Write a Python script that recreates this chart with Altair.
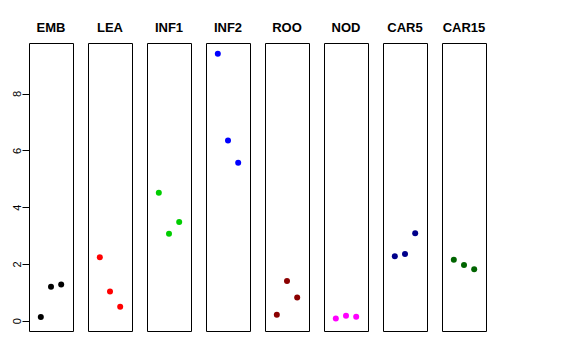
import altair as alt
import pandas as pd

groups = ["EMB", "LEA", "INF1", "INF2", "ROO", "NOD", "CAR5", "CAR15"]
colors = ["black", "red", "#00CD00", "blue", "#8B0000", "magenta", "#00008B", "#006400"]
rep = [1, 2, 3]

emb = [0.13, 1.20, 1.28]
lea = [2.24, 1.03, 0.49]
inf1 = [4.51, 3.06, 3.48]
inf2 = [9.40, 6.35, 5.56]
roo = [0.21, 1.40, 0.82]
nod = [0.08, 0.18, 0.14]
car5 = [2.27, 2.35, 3.08]
car15 = [2.15, 1.96, 1.81]

series = [emb, lea, inf1, inf2, roo, nod, car5, car15]
y_ticks = [0, 2, 4, 6, 8]

FONT = "Liberation Sans"

panels = []
for i, (g, c, vals) in enumerate(zip(groups, colors, series)):
    df = pd.DataFrame({"rep": rep, "value": vals})
    if i == 0:
        yaxis = alt.Axis(values=y_ticks, domain=False, grid=False, tickSize=7,
                         tickColor="black", labelAngle=-90, labelAlign="center",
                         labelBaseline="bottom", labelPadding=0, labelFontSize=11,
                         labelColor="black", labelFont=FONT, title=None)
    else:
        yaxis = None
    ch = alt.Chart(df, title=alt.TitleParams(g)).mark_circle(
        size=36, opacity=1, color=c
    ).encode(
        x=alt.X("rep:Q", scale=alt.Scale(domain=[-0.16, 4.16], nice=False, zero=False), axis=None),
        y=alt.Y("value:Q", scale=alt.Scale(domain=[-0.36, 9.78], nice=False, zero=False), axis=yaxis),
    ).properties(width=44, height=288)
    panels.append(ch)

chart = alt.hconcat(*panels, spacing=13).properties(
    padding={"left": 2, "top": 13, "right": 5, "bottom": 5},
    background="white",
).configure_view(
    stroke="black", strokeWidth=1
).configure_title(
    font=FONT, fontSize=13, fontWeight="bold", color="black", offset=8, anchor="middle"
)

chart.save("out.html", embed_options={"renderer": "svg", "actions": False})
